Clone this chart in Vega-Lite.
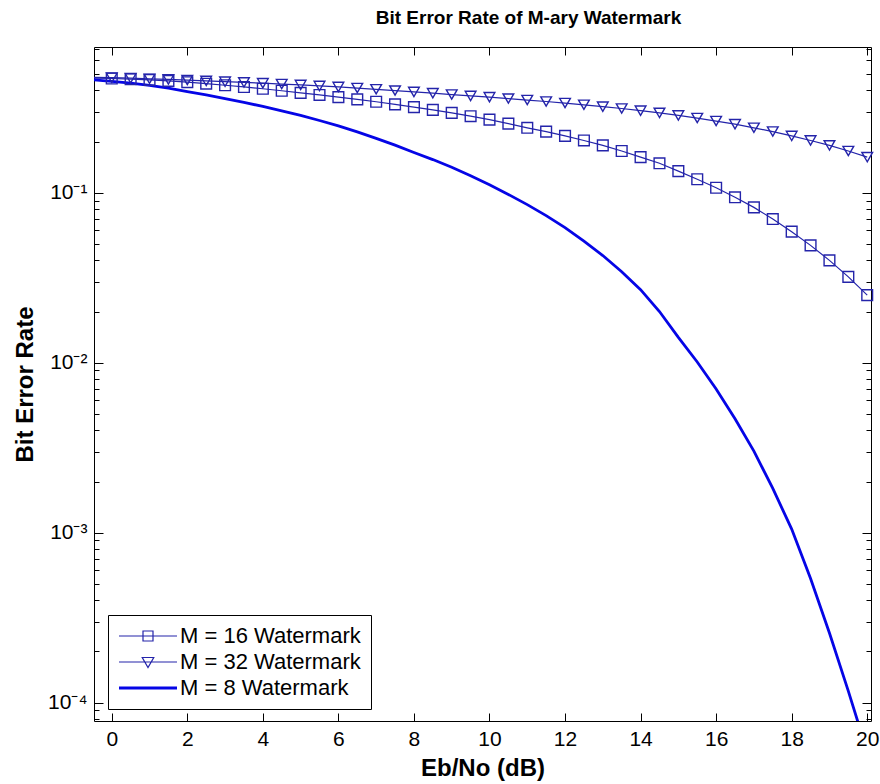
{
  "$schema": "https://vega.github.io/schema/vega-lite/v6.json",
  "width": 777,
  "height": 674,
  "autosize": "none",
  "padding": {"left": 94, "top": 47, "right": 9, "bottom": 63},
  "background": "white",
  "title": {"text": "Bit Error Rate of M-ary Watermark", "font": "Liberation Sans", "fontSize": 19, "fontWeight": "bold", "color": "black", "anchor": "middle", "offset": 10, "dx": 46},
  "config": {
    "view": {"stroke": "black", "strokeWidth": 1},
    "axis": {"domain": false, "grid": false, "labelFont": "Liberation Sans", "labelFontSize": 21, "labelColor": "black", "tickColor": "black", "tickWidth": 1, "titleFont": "Liberation Sans", "titleFontSize": 24, "titleFontWeight": "bold", "titleColor": "black"}
  },
  "datasets": {
    "ber": [
      {"series": "M = 16 Watermark", "x": -0.5, "ber": 0.472},
      {"series": "M = 16 Watermark", "x": 0, "ber": 0.470},
      {"series": "M = 16 Watermark", "x": 0.5, "ber": 0.466},
      {"series": "M = 16 Watermark", "x": 1, "ber": 0.461},
      {"series": "M = 16 Watermark", "x": 1.5, "ber": 0.455},
      {"series": "M = 16 Watermark", "x": 2, "ber": 0.447},
      {"series": "M = 16 Watermark", "x": 2.5, "ber": 0.438},
      {"series": "M = 16 Watermark", "x": 3, "ber": 0.429},
      {"series": "M = 16 Watermark", "x": 3.5, "ber": 0.419},
      {"series": "M = 16 Watermark", "x": 4, "ber": 0.409},
      {"series": "M = 16 Watermark", "x": 4.5, "ber": 0.398},
      {"series": "M = 16 Watermark", "x": 5, "ber": 0.387},
      {"series": "M = 16 Watermark", "x": 5.5, "ber": 0.376},
      {"series": "M = 16 Watermark", "x": 6, "ber": 0.365},
      {"series": "M = 16 Watermark", "x": 6.5, "ber": 0.354},
      {"series": "M = 16 Watermark", "x": 7, "ber": 0.343},
      {"series": "M = 16 Watermark", "x": 7.5, "ber": 0.331},
      {"series": "M = 16 Watermark", "x": 8, "ber": 0.319},
      {"series": "M = 16 Watermark", "x": 8.5, "ber": 0.307},
      {"series": "M = 16 Watermark", "x": 9, "ber": 0.295},
      {"series": "M = 16 Watermark", "x": 9.5, "ber": 0.282},
      {"series": "M = 16 Watermark", "x": 10, "ber": 0.269},
      {"series": "M = 16 Watermark", "x": 10.5, "ber": 0.255},
      {"series": "M = 16 Watermark", "x": 11, "ber": 0.241},
      {"series": "M = 16 Watermark", "x": 11.5, "ber": 0.229},
      {"series": "M = 16 Watermark", "x": 12, "ber": 0.216},
      {"series": "M = 16 Watermark", "x": 12.5, "ber": 0.203},
      {"series": "M = 16 Watermark", "x": 13, "ber": 0.190},
      {"series": "M = 16 Watermark", "x": 13.5, "ber": 0.176},
      {"series": "M = 16 Watermark", "x": 14, "ber": 0.162},
      {"series": "M = 16 Watermark", "x": 14.5, "ber": 0.149},
      {"series": "M = 16 Watermark", "x": 15, "ber": 0.134},
      {"series": "M = 16 Watermark", "x": 15.5, "ber": 0.120},
      {"series": "M = 16 Watermark", "x": 16, "ber": 0.107},
      {"series": "M = 16 Watermark", "x": 16.5, "ber": 0.094},
      {"series": "M = 16 Watermark", "x": 17, "ber": 0.082},
      {"series": "M = 16 Watermark", "x": 17.5, "ber": 0.070},
      {"series": "M = 16 Watermark", "x": 18, "ber": 0.059},
      {"series": "M = 16 Watermark", "x": 18.5, "ber": 0.049},
      {"series": "M = 16 Watermark", "x": 19, "ber": 0.040},
      {"series": "M = 16 Watermark", "x": 19.5, "ber": 0.032},
      {"series": "M = 16 Watermark", "x": 20, "ber": 0.025},
      {"series": "M = 32 Watermark", "x": -0.5, "ber": 0.477},
      {"series": "M = 32 Watermark", "x": 0, "ber": 0.475},
      {"series": "M = 32 Watermark", "x": 0.5, "ber": 0.472},
      {"series": "M = 32 Watermark", "x": 1, "ber": 0.468},
      {"series": "M = 32 Watermark", "x": 1.5, "ber": 0.464},
      {"series": "M = 32 Watermark", "x": 2, "ber": 0.460},
      {"series": "M = 32 Watermark", "x": 2.5, "ber": 0.455},
      {"series": "M = 32 Watermark", "x": 3, "ber": 0.450},
      {"series": "M = 32 Watermark", "x": 3.5, "ber": 0.446},
      {"series": "M = 32 Watermark", "x": 4, "ber": 0.441},
      {"series": "M = 32 Watermark", "x": 4.5, "ber": 0.436},
      {"series": "M = 32 Watermark", "x": 5, "ber": 0.431},
      {"series": "M = 32 Watermark", "x": 5.5, "ber": 0.425},
      {"series": "M = 32 Watermark", "x": 6, "ber": 0.419},
      {"series": "M = 32 Watermark", "x": 6.5, "ber": 0.413},
      {"series": "M = 32 Watermark", "x": 7, "ber": 0.406},
      {"series": "M = 32 Watermark", "x": 7.5, "ber": 0.399},
      {"series": "M = 32 Watermark", "x": 8, "ber": 0.392},
      {"series": "M = 32 Watermark", "x": 8.5, "ber": 0.385},
      {"series": "M = 32 Watermark", "x": 9, "ber": 0.378},
      {"series": "M = 32 Watermark", "x": 9.5, "ber": 0.371},
      {"series": "M = 32 Watermark", "x": 10, "ber": 0.365},
      {"series": "M = 32 Watermark", "x": 10.5, "ber": 0.358},
      {"series": "M = 32 Watermark", "x": 11, "ber": 0.351},
      {"series": "M = 32 Watermark", "x": 11.5, "ber": 0.344},
      {"series": "M = 32 Watermark", "x": 12, "ber": 0.337},
      {"series": "M = 32 Watermark", "x": 12.5, "ber": 0.329},
      {"series": "M = 32 Watermark", "x": 13, "ber": 0.321},
      {"series": "M = 32 Watermark", "x": 13.5, "ber": 0.313},
      {"series": "M = 32 Watermark", "x": 14, "ber": 0.304},
      {"series": "M = 32 Watermark", "x": 14.5, "ber": 0.295},
      {"series": "M = 32 Watermark", "x": 15, "ber": 0.285},
      {"series": "M = 32 Watermark", "x": 15.5, "ber": 0.275},
      {"series": "M = 32 Watermark", "x": 16, "ber": 0.264},
      {"series": "M = 32 Watermark", "x": 16.5, "ber": 0.253},
      {"series": "M = 32 Watermark", "x": 17, "ber": 0.241},
      {"series": "M = 32 Watermark", "x": 17.5, "ber": 0.229},
      {"series": "M = 32 Watermark", "x": 18, "ber": 0.216},
      {"series": "M = 32 Watermark", "x": 18.5, "ber": 0.203},
      {"series": "M = 32 Watermark", "x": 19, "ber": 0.190},
      {"series": "M = 32 Watermark", "x": 19.5, "ber": 0.176},
      {"series": "M = 32 Watermark", "x": 20, "ber": 0.162},
      {"series": "M = 8 Watermark", "x": -0.5, "ber": 0.4624},
      {"series": "M = 8 Watermark", "x": 0, "ber": 0.4519},
      {"series": "M = 8 Watermark", "x": 0.5, "ber": 0.4416},
      {"series": "M = 8 Watermark", "x": 1, "ber": 0.4285},
      {"series": "M = 8 Watermark", "x": 1.5, "ber": 0.4121},
      {"series": "M = 8 Watermark", "x": 2, "ber": 0.3936},
      {"series": "M = 8 Watermark", "x": 2.5, "ber": 0.3758},
      {"series": "M = 8 Watermark", "x": 3, "ber": 0.3573},
      {"series": "M = 8 Watermark", "x": 3.5, "ber": 0.3396},
      {"series": "M = 8 Watermark", "x": 4, "ber": 0.3221},
      {"series": "M = 8 Watermark", "x": 4.5, "ber": 0.3034},
      {"series": "M = 8 Watermark", "x": 5, "ber": 0.2851},
      {"series": "M = 8 Watermark", "x": 5.5, "ber": 0.2661},
      {"series": "M = 8 Watermark", "x": 6, "ber": 0.2472},
      {"series": "M = 8 Watermark", "x": 6.5, "ber": 0.2280},
      {"series": "M = 8 Watermark", "x": 7, "ber": 0.2089},
      {"series": "M = 8 Watermark", "x": 7.5, "ber": 0.1905},
      {"series": "M = 8 Watermark", "x": 8, "ber": 0.1726},
      {"series": "M = 8 Watermark", "x": 8.5, "ber": 0.1567},
      {"series": "M = 8 Watermark", "x": 9, "ber": 0.1413},
      {"series": "M = 8 Watermark", "x": 9.5, "ber": 0.1259},
      {"series": "M = 8 Watermark", "x": 10, "ber": 0.1114},
      {"series": "M = 8 Watermark", "x": 10.5, "ber": 0.0977},
      {"series": "M = 8 Watermark", "x": 11, "ber": 0.0851},
      {"series": "M = 8 Watermark", "x": 11.5, "ber": 0.0733},
      {"series": "M = 8 Watermark", "x": 12, "ber": 0.0624},
      {"series": "M = 8 Watermark", "x": 12.5, "ber": 0.0519},
      {"series": "M = 8 Watermark", "x": 13, "ber": 0.0427},
      {"series": "M = 8 Watermark", "x": 13.5, "ber": 0.0343},
      {"series": "M = 8 Watermark", "x": 14, "ber": 0.0269},
      {"series": "M = 8 Watermark", "x": 14.5, "ber": 0.0200},
      {"series": "M = 8 Watermark", "x": 15, "ber": 0.0141},
      {"series": "M = 8 Watermark", "x": 15.5, "ber": 0.0101},
      {"series": "M = 8 Watermark", "x": 16, "ber": 0.0070},
      {"series": "M = 8 Watermark", "x": 16.5, "ber": 0.00468},
      {"series": "M = 8 Watermark", "x": 17, "ber": 0.00302},
      {"series": "M = 8 Watermark", "x": 17.5, "ber": 0.00182},
      {"series": "M = 8 Watermark", "x": 18, "ber": 0.00105},
      {"series": "M = 8 Watermark", "x": 18.5, "ber": 0.000537},
      {"series": "M = 8 Watermark", "x": 19, "ber": 0.000257},
      {"series": "M = 8 Watermark", "x": 19.5, "ber": 0.000117},
      {"series": "M = 8 Watermark", "x": 20, "ber": 0.0000513}
    ]
  },
  "data": {"name": "ber"},
  "layer": [
    {
      "transform": [{"filter": "datum.series !== 'M = 8 Watermark'"}],
      "mark": {"type": "line", "clip": true, "strokeWidth": 1.2},
      "encoding": {
        "x": {"field": "x", "type": "quantitative", "scale": {"domain": [-0.47, 20.1], "nice": false, "zero": false},
              "axis": {"orient": "bottom", "values": [0, 2, 4, 6, 8, 10, 12, 14, 16, 18, 20], "format": "d", "tickSize": -8, "labelPadding": 15, "labelFlush": false, "title": "Eb/No (dB)", "titlePadding": 7}},
        "y": {"field": "ber", "type": "quantitative", "scale": {"type": "log", "domain": [0.000078, 0.72], "nice": false, "zero": false},
              "axis": {"orient": "left", "values": [0.00008, 0.00009, 0.0001, 0.0002, 0.0003, 0.0004, 0.0005, 0.0006, 0.0007, 0.0008, 0.0009, 0.001, 0.002, 0.003, 0.004, 0.005, 0.006, 0.007, 0.008, 0.009, 0.01, 0.02, 0.03, 0.04, 0.05, 0.06, 0.07, 0.08, 0.09, 0.1, 0.2, 0.3, 0.4, 0.5, 0.6, 0.7],
                       "tickSize": {"condition": {"test": "abs(log(datum.value)/LN10 - round(log(datum.value)/LN10)) < 0.01", "value": -9}, "value": -5},
                       "labelPadding": 16, "labelFlush": false, "labelOverlap": false,
                       "labelExpr": "abs(log(datum.value)/LN10 - round(log(datum.value)/LN10)) < 0.01 ? (round(log(datum.value)/LN10) == -1 ? '10⁻¹' : round(log(datum.value)/LN10) == -2 ? '10⁻²' : round(log(datum.value)/LN10) == -3 ? '10⁻³' : '10⁻⁴') : ''",
                       "title": "Bit Error Rate", "titlePadding": 10}},
        "color": {"field": "series", "type": "nominal",
                  "scale": {"domain": ["M = 16 Watermark", "M = 32 Watermark", "M = 8 Watermark"], "range": ["#2424aa", "#2424aa", "#0505e6"]},
                  "legend": {"title": null, "orient": "none", "legendX": 14, "legendY": 568, "direction": "vertical", "padding": 10, "strokeColor": "black", "fillColor": "white", "cornerRadius": 0,
                             "labelFont": "Liberation Sans", "labelFontSize": 22, "labelColor": "black", "labelLimit": 400,
                             "symbolSize": 100, "symbolOffset": 19, "labelOffset": 21, "rowPadding": 4, "symbolStrokeWidth": 1.2,
                             "encode": {"symbols": {"update": {
                               "shape": {"signal": "datum.value === 'M = 8 Watermark' ? 'M-5.8,0H5.8' : datum.value === 'M = 16 Watermark' ? 'M-5.8,0H5.8M-1,-1H1V1H-1Z' : 'M-5.8,0H5.8M-1.15,-0.9H1.15L0,1.1Z'"},
                               "strokeWidth": {"signal": "datum.value === 'M = 8 Watermark' ? 2.8 : 1.2"},
                               "fill": {"value": "transparent"}}}}}}
      }
    },
    {
      "transform": [{"filter": "datum.series === 'M = 8 Watermark'"}],
      "mark": {"type": "line", "clip": true, "strokeWidth": 2.8},
      "encoding": {
        "x": {"field": "x", "type": "quantitative", "scale": {"domain": [-0.47, 20.1], "nice": false, "zero": false}, "axis": null},
        "y": {"field": "ber", "type": "quantitative", "scale": {"type": "log", "domain": [0.000078, 0.72], "nice": false, "zero": false}, "axis": null},
        "color": {"field": "series", "type": "nominal"}
      }
    },
    {
      "transform": [{"filter": "datum.x >= 0 && datum.series !== 'M = 8 Watermark'"}],
      "mark": {"type": "point", "filled": false, "color": "#2424aa", "strokeWidth": 1.4, "size": 115, "opacity": 1},
      "encoding": {
        "x": {"field": "x", "type": "quantitative", "scale": {"domain": [-0.47, 20.1], "nice": false, "zero": false},
              "axis": {"orient": "top", "values": [0, 2, 4, 6, 8, 10, 12, 14, 16, 18, 20], "tickSize": -8, "labels": false, "title": null}},
        "y": {"field": "ber", "type": "quantitative", "scale": {"type": "log", "domain": [0.000078, 0.72], "nice": false, "zero": false},
              "axis": {"orient": "right", "values": [0.00008, 0.00009, 0.0001, 0.0002, 0.0003, 0.0004, 0.0005, 0.0006, 0.0007, 0.0008, 0.0009, 0.001, 0.002, 0.003, 0.004, 0.005, 0.006, 0.007, 0.008, 0.009, 0.01, 0.02, 0.03, 0.04, 0.05, 0.06, 0.07, 0.08, 0.09, 0.1, 0.2, 0.3, 0.4, 0.5, 0.6, 0.7],
                       "tickSize": {"condition": {"test": "abs(log(datum.value)/LN10 - round(log(datum.value)/LN10)) < 0.01", "value": -9}, "value": -5},
                       "labels": false, "title": null}},
        "shape": {"field": "series", "type": "nominal", "scale": {"domain": ["M = 16 Watermark", "M = 32 Watermark"], "range": ["square", "triangle-down"]}, "legend": null}
      }
    }
  ],
  "resolve": {"axis": {"x": "independent", "y": "independent"}}
}
